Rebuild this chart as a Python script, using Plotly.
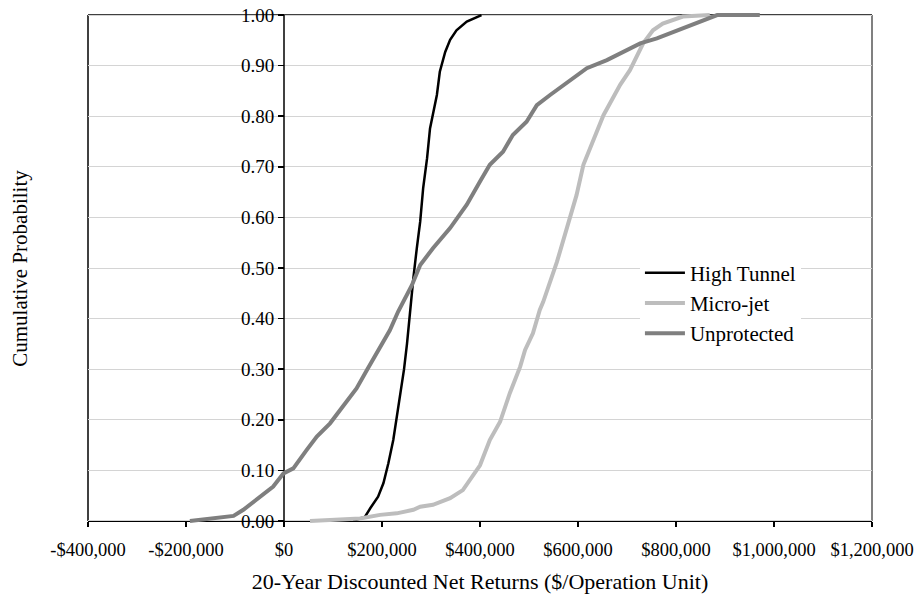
import plotly.graph_objects as go

# ---- data ----
high_tunnel_x = [141000, 165000, 176000, 192000, 203000, 213000, 223000, 230000, 237000, 245000,
                 251000, 257000, 264000, 271000, 278000, 284000, 292000, 298000, 305000, 312000,
                 318000, 329000, 339000, 352000, 373000, 403000]
high_tunnel_p = [0.0, 0.008, 0.025, 0.048, 0.075, 0.114, 0.160, 0.206, 0.252, 0.300,
                 0.350, 0.414, 0.480, 0.539, 0.592, 0.658, 0.717, 0.776, 0.809, 0.842,
                 0.888, 0.927, 0.951, 0.970, 0.987, 1.0]

micro_jet_x = [53000, 155000, 196000, 230000, 264000, 278000, 304000, 339000, 365000, 400000,
               420000, 441000, 461000, 482000, 492000, 508000, 522000, 529000, 557000, 577000,
               597000, 611000, 631000, 652000, 686000, 706000, 733000, 753000, 773000, 814000, 869000]
micro_jet_p = [0.0, 0.005, 0.012, 0.015, 0.022, 0.028, 0.032, 0.045, 0.061, 0.110,
               0.160, 0.196, 0.253, 0.305, 0.338, 0.371, 0.417, 0.433, 0.512, 0.578,
               0.644, 0.704, 0.750, 0.802, 0.862, 0.891, 0.944, 0.970, 0.983, 0.997, 1.0]

unprotected_x = [-192000, -144000, -103000, -83000, -49000, -22000, -1000, 19000, 46000, 67000,
                 94000, 121000, 148000, 169000, 196000, 216000, 233000, 261000, 278000, 304000,
                 339000, 373000, 400000, 420000, 447000, 467000, 495000, 516000, 543000, 577000,
                 618000, 659000, 686000, 727000, 761000, 814000, 869000, 884000, 971000]
unprotected_p = [0.0, 0.005, 0.010, 0.022, 0.048, 0.068, 0.094, 0.104, 0.140, 0.167,
                 0.193, 0.226, 0.262, 0.298, 0.344, 0.377, 0.414, 0.466, 0.506, 0.539,
                 0.579, 0.625, 0.671, 0.704, 0.730, 0.763, 0.789, 0.822, 0.842, 0.865,
                 0.895, 0.911, 0.924, 0.944, 0.954, 0.974, 0.994, 1.0, 1.0]

x_tick_vals = [-400000, -200000, 0, 200000, 400000, 600000, 800000, 1000000, 1200000]
x_tick_text = ["-$400,000", "-$200,000", "$0", "$200,000", "$400,000", "$600,000",
               "$800,000", "$1,000,000", "$1,200,000"]
y_tick_vals = [0.0, 0.1, 0.2, 0.3, 0.4, 0.5, 0.6, 0.7, 0.8, 0.9, 1.0]
y_tick_text = ["0.00", "0.10", "0.20", "0.30", "0.40", "0.50", "0.60", "0.70", "0.80", "0.90", "1.00"]

FONT = "Liberation Serif"

fig = go.Figure()
fig.add_trace(go.Scatter(x=high_tunnel_x, y=high_tunnel_p, mode="lines", name="High Tunnel",
                         line=dict(color="#000000", width=2.5)))
fig.add_trace(go.Scatter(x=micro_jet_x, y=micro_jet_p, mode="lines", name="Micro-jet",
                         line=dict(color="#bdbdbd", width=4)))
fig.add_trace(go.Scatter(x=unprotected_x, y=unprotected_p, mode="lines", name="Unprotected",
                         line=dict(color="#7f7f7f", width=4)))

y_lo, y_hi = -0.01, 1.01
x_axis_pos = (0 - y_lo) / (y_hi - y_lo)
x_lo, x_hi = -400000, 1200000
y_axis_pos = (0 - x_lo) / (x_hi - x_lo)

fig.update_layout(
    width=917, height=608,
    margin=dict(l=88, r=45, t=10, b=82, autoexpand=False),
    paper_bgcolor="white", plot_bgcolor="white",
    font=dict(family=FONT, color="black", size=19),
    showlegend=True,
    hovermode=False,
    legend=dict(x=0.704, y=0.53, xanchor="left", yanchor="top",
                bgcolor="white", borderwidth=0,
                font=dict(family=FONT, size=21, color="black"),
                tracegroupgap=0, itemwidth=40),
    xaxis=dict(range=[x_lo, x_hi], tickvals=x_tick_vals, ticktext=x_tick_text,
               anchor="free", position=x_axis_pos, automargin=False,
               showline=True, linecolor="black", linewidth=1.5,
               ticks="outside", ticklen=5, tickcolor="black", tickwidth=1.5,
               showgrid=False, zeroline=False, layer="below traces",
               ticklabelstandoff=6, ticklabeloverflow="allow",
               tickfont=dict(family=FONT, size=18.5, color="black"),
               title=dict(text="20-Year Discounted Net Returns ($/Operation Unit)",
                          font=dict(family=FONT, size=22, color="black"), standoff=15)),
    yaxis=dict(range=[y_lo, y_hi], tickvals=y_tick_vals, ticktext=y_tick_text,
               anchor="free", position=y_axis_pos, automargin=False,
               showline=False, ticks="outside", ticklen=6, tickcolor="black", tickwidth=1.5,
               showgrid=True, gridcolor="#d4d4d4", gridwidth=1, zeroline=False,
               layer="below traces", ticklabeloverflow="allow",
               tickfont=dict(family=FONT, size=19, color="black")),
    annotations=[dict(text="Cumulative Probability", xref="paper", yref="paper",
                      x=-0.087, y=0.5, xanchor="center", yanchor="middle",
                      textangle=-90, showarrow=False,
                      font=dict(family=FONT, size=21, color="black"))],
    shapes=[
        # y axis line at $0
        dict(type="line", xref="x", yref="y", x0=0, x1=0, y0=0, y1=1,
             line=dict(color="black", width=1.5), layer="between"),
        # frame: left, top, right
        dict(type="line", xref="paper", yref="y", x0=0, x1=0, y0=0, y1=1,
             line=dict(color="black", width=1.5), layer="between"),
        dict(type="line", xref="paper", yref="y", x0=0, x1=1, y0=1, y1=1,
             line=dict(color="black", width=1.5), layer="between"),
        dict(type="line", xref="paper", yref="y", x0=1, x1=1, y0=0, y1=1,
             line=dict(color="#808080", width=2), layer="between"),
    ],
)

fig.write_html("out.html",
               config={"displayModeBar": False, "staticPlot": True},
               post_script="document.body.style.margin='0';document.body.style.overflow='hidden';")
